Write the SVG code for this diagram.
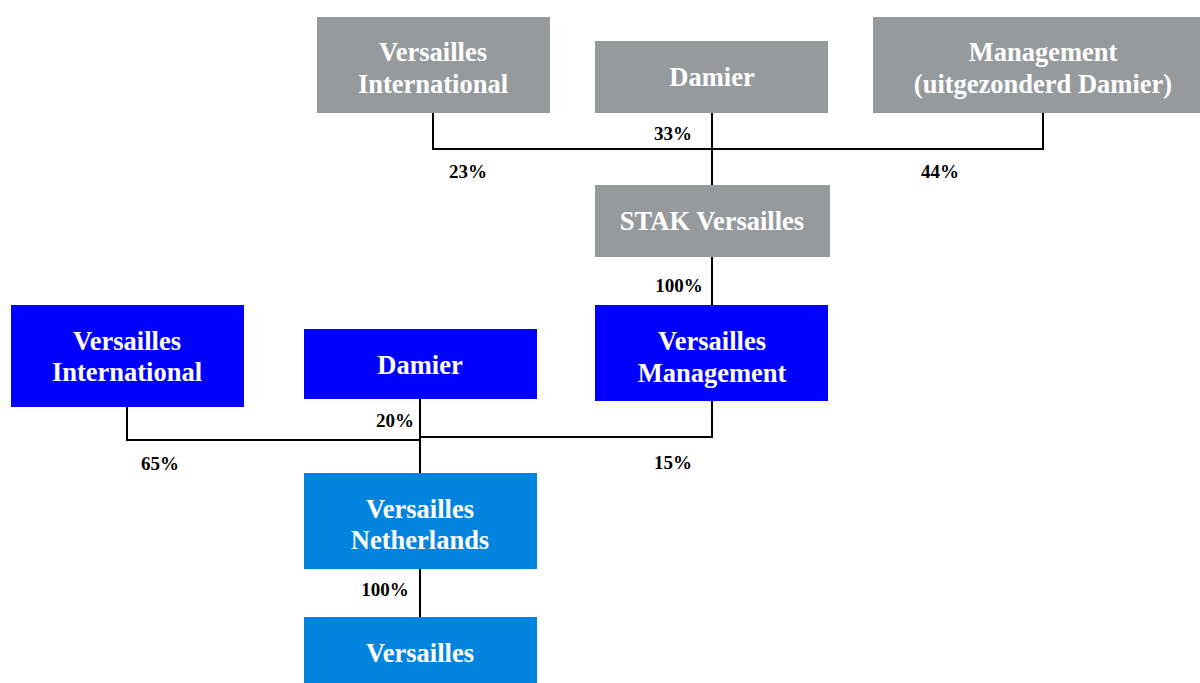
<svg xmlns="http://www.w3.org/2000/svg" width="1200" height="683" viewBox="0 0 1200 683">
<style>
.g{fill:#979a9d}
.b{fill:#0000ff}
.l{fill:#0284de}
.t{font-family:"Liberation Serif","Times New Roman",serif;font-weight:bold;font-size:26.5px;fill:#ffffff;text-anchor:middle}
.p{font-family:"Liberation Serif","Times New Roman",serif;font-weight:bold;font-size:19px;fill:#000000;text-anchor:middle}
.c{fill:none;stroke:#000000;stroke-width:2}
</style>
<rect width="1200" height="683" fill="#ffffff"/>
<g id="connectors">
<polyline class="c" points="433,113 433,149 1043,149 1043,113"/>
<line class="c" x1="712" y1="113" x2="712" y2="185"/>
<line class="c" x1="712" y1="257" x2="712" y2="305"/>
<polyline class="c" points="127,407 127,440 420,440"/>
<polyline class="c" points="420,437 712,437 712,401"/>
<line class="c" x1="420" y1="399" x2="420" y2="473"/>
<line class="c" x1="420" y1="569" x2="420" y2="617"/>
<text class="p" x="468" y="178">23%</text>
<text class="p" x="673" y="140">33%</text>
<text class="p" x="940" y="178">44%</text>
<text class="p" x="679" y="292">100%</text>
<text class="p" x="395" y="427">20%</text>
<text class="p" x="160" y="470">65%</text>
<text class="p" x="673" y="469">15%</text>
<text class="p" x="385" y="596">100%</text>
</g>
<g id="vi-top"><rect class="g" x="317" y="17" width="233" height="96"/><text class="t" x="433" y="61">Versailles</text><text class="t" x="433" y="93">International</text></g>
<g id="damier-top"><rect class="g" x="595" y="41" width="233" height="72"/><text class="t" x="712" y="86">Damier</text></g>
<g id="management-top"><rect class="g" x="873" y="17" width="327" height="96"/><text class="t" x="1043" y="61">Management</text><text class="t" x="1043" y="93">(uitgezonderd Damier)</text></g>
<g id="stak"><rect class="g" x="595" y="185" width="235" height="72"/><text class="t" x="712" y="230">STAK Versailles</text></g>
<g id="vi-blue"><rect class="b" x="11" y="305" width="233" height="102"/><text class="t" x="127" y="350">Versailles</text><text class="t" x="127" y="381">International</text></g>
<g id="damier-blue"><rect class="b" x="304" y="329" width="233" height="70"/><text class="t" x="420" y="374">Damier</text></g>
<g id="vm"><rect class="b" x="595" y="305" width="233" height="96"/><text class="t" x="712" y="350">Versailles</text><text class="t" x="712" y="382">Management</text></g>
<g id="vn"><rect class="l" x="304" y="473" width="233" height="96"/><text class="t" x="420" y="518">Versailles</text><text class="t" x="420" y="549">Netherlands</text></g>
<g id="versailles"><rect class="l" x="304" y="617" width="233" height="66"/><text class="t" x="420" y="662">Versailles</text></g>
</svg>
